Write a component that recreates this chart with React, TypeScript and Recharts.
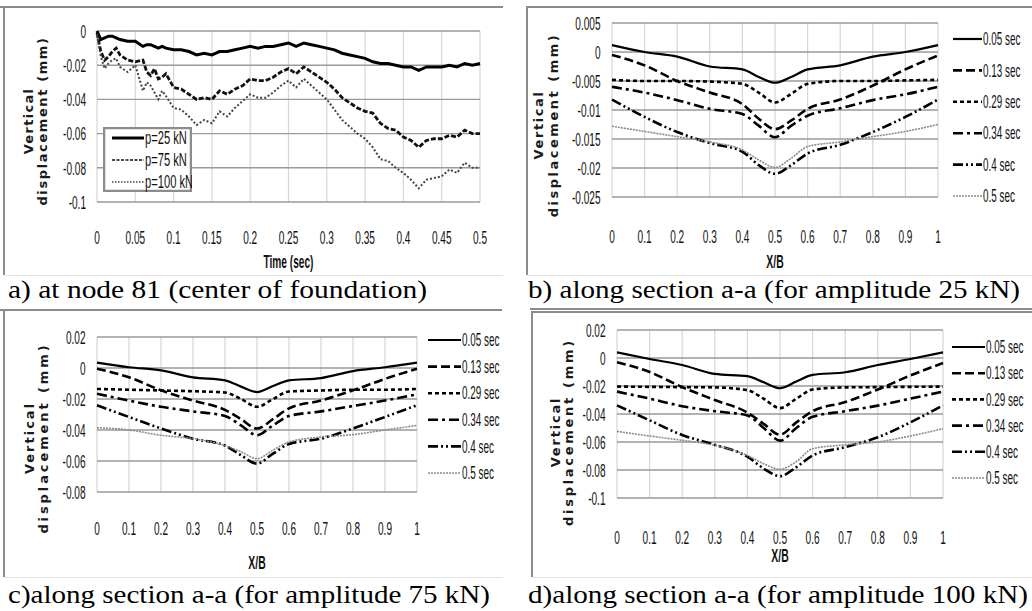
import React from "react";
import { LineChart, Line, XAxis, YAxis, CartesianGrid, Legend, Label } from "recharts";

const NARROW = "'Liberation Sans', Arial, sans-serif";
const SERIF = "'Liberation Serif', 'Times New Roman', Times, serif";
const FRAME = "#8c8c8c";

// (a) vertical displacement at node 81 vs time
const timeA = [0, 0.005, 0.01, 0.015, 0.02, 0.025, 0.03, 0.04, 0.05, 0.06, 0.065, 0.07, 0.075, 0.08, 0.085, 0.09,
  0.1, 0.11, 0.12, 0.13, 0.14, 0.15, 0.16, 0.17, 0.18, 0.19, 0.2, 0.21, 0.22, 0.23, 0.24, 0.25, 0.26, 0.27, 0.28, 0.29,
  0.3, 0.31, 0.32, 0.33, 0.34, 0.35, 0.36, 0.37, 0.38, 0.39, 0.4, 0.41, 0.42, 0.43, 0.44, 0.45, 0.46, 0.47, 0.48, 0.49, 0.5];
const p25 = [0, -0.005, -0.004, -0.003, -0.003, -0.004, -0.005, -0.006, -0.006, -0.009, -0.008, -0.008, -0.009, -0.01, -0.009, -0.01,
  -0.011, -0.011, -0.012, -0.014, -0.013, -0.014, -0.012, -0.012, -0.011, -0.01,
  -0.009, -0.01, -0.009, -0.009, -0.008, -0.007, -0.009, -0.007, -0.008, -0.009,
  -0.01, -0.011, -0.013, -0.014, -0.015, -0.016, -0.018, -0.019, -0.019, -0.02,
  -0.021, -0.021, -0.023, -0.021, -0.021, -0.021, -0.02, -0.021, -0.019, -0.02, -0.019];
const p75 = [-0.001, -0.012, -0.017, -0.015, -0.012, -0.01, -0.014, -0.017, -0.018, -0.017, -0.024, -0.026, -0.022, -0.028, -0.027, -0.025,
  -0.033, -0.034, -0.037, -0.04, -0.039, -0.04, -0.035, -0.037, -0.034, -0.032,
  -0.028, -0.029, -0.029, -0.027, -0.024, -0.022, -0.025, -0.021, -0.024, -0.027,
  -0.03, -0.034, -0.039, -0.042, -0.045, -0.047, -0.048, -0.054, -0.057, -0.058,
  -0.062, -0.064, -0.068, -0.064, -0.063, -0.063, -0.061, -0.062, -0.058, -0.06, -0.06];
const p100 = [-0.002, -0.015, -0.022, -0.019, -0.017, -0.016, -0.021, -0.024, -0.02, -0.035, -0.03, -0.032, -0.036, -0.04, -0.035, -0.038,
  -0.045, -0.046, -0.05, -0.055, -0.052, -0.054, -0.047, -0.05, -0.045, -0.041,
  -0.037, -0.039, -0.039, -0.036, -0.032, -0.029, -0.033, -0.028, -0.032, -0.036,
  -0.04, -0.046, -0.052, -0.056, -0.06, -0.063, -0.068, -0.075, -0.076, -0.08,
  -0.083, -0.087, -0.092, -0.087, -0.086, -0.085, -0.081, -0.083, -0.077, -0.08, -0.08];
const loadNames = ["p=25 kN", "p=75 kN", "p=100 kN"];
const timeTicks = [0, 0.05, 0.1, 0.15, 0.2, 0.25, 0.3, 0.35, 0.4, 0.45, 0.5];
const yTicksA = [0, -0.02, -0.04, -0.06, -0.08, -0.1];

// (b)-(d) profiles along section a-a
const xB = [0, 0.1, 0.2, 0.3, 0.4, 0.45, 0.5, 0.55, 0.6, 0.7, 0.8, 0.9, 1];
const xbTicks = [0, 0.1, 0.2, 0.3, 0.4, 0.5, 0.6, 0.7, 0.8, 0.9, 1];
const stepNames = ["0.05 sec", "0.13 sec", "0.29 sec", "0.34 sec", "0.4 sec", "0.5 sec"];

const amp25_005 = [0.0012, 0, -0.0008, -0.0025, -0.003, -0.0043, -0.0053, -0.0043, -0.003, -0.0023, -0.0008, 0, 0.0012];
const amp25_013 = [-0.0005, -0.0023, -0.005, -0.007, -0.009, -0.0115, -0.0133, -0.0118, -0.0098, -0.0082, -0.0058, -0.003, -0.0006];
const amp25_029 = [-0.0048, -0.005, -0.005, -0.0051, -0.0055, -0.007, -0.0087, -0.0072, -0.0055, -0.005, -0.005, -0.0049, -0.0048];
const amp25_034 = [-0.006, -0.007, -0.0083, -0.0098, -0.0107, -0.0127, -0.0147, -0.0127, -0.011, -0.0097, -0.0083, -0.0073, -0.006];
const amp25_04 = [-0.0082, -0.0112, -0.0138, -0.0157, -0.0172, -0.0195, -0.021, -0.0195, -0.0175, -0.016, -0.0138, -0.0112, -0.0082];
const amp25_05 = [-0.0128, -0.0137, -0.0146, -0.0155, -0.0169, -0.0186, -0.0199, -0.0183, -0.0163, -0.0155, -0.0146, -0.0137, -0.0125];
const yTicks25 = [0.005, 0, -0.005, -0.01, -0.015, -0.02, -0.025];

const amp75_005 = [0.0035, 0.0005, -0.0015, -0.006, -0.008, -0.012, -0.0155, -0.0116, -0.008, -0.0065, -0.002, 0.0005, 0.0035];
const amp75_013 = [-0.0005, -0.006, -0.0144, -0.021, -0.027, -0.033, -0.039, -0.033, -0.026, -0.021, -0.0144, -0.007, -0.0005];
const amp75_029 = [-0.0135, -0.014, -0.0145, -0.015, -0.0158, -0.02, -0.025, -0.02, -0.0152, -0.0145, -0.014, -0.014, -0.0135];
const amp75_034 = [-0.0166, -0.021, -0.025, -0.028, -0.031, -0.037, -0.0434, -0.037, -0.031, -0.028, -0.0245, -0.021, -0.017];
const amp75_04 = [-0.024, -0.0316, -0.039, -0.0456, -0.05, -0.0563, -0.0617, -0.0553, -0.049, -0.0456, -0.039, -0.0316, -0.024];
const amp75_05 = [-0.0385, -0.04, -0.0434, -0.0456, -0.05, -0.054, -0.0585, -0.053, -0.0477, -0.0445, -0.043, -0.04, -0.037];
const yTicks75 = [0.02, 0, -0.02, -0.04, -0.06, -0.08];

const amp100_005 = [0.004, -0.0007, -0.005, -0.0114, -0.013, -0.0173, -0.0216, -0.0168, -0.012, -0.0102, -0.005, -0.0007, 0.004];
const amp100_013 = [-0.003, -0.01, -0.0208, -0.03, -0.039, -0.047, -0.0547, -0.046, -0.038, -0.0315, -0.0225, -0.0125, -0.0036];
const amp100_029 = [-0.0204, -0.0206, -0.0208, -0.021, -0.023, -0.0291, -0.0358, -0.0291, -0.0225, -0.021, -0.0208, -0.0206, -0.0204];
const amp100_034 = [-0.024, -0.029, -0.0344, -0.038, -0.041, -0.05, -0.059, -0.05, -0.042, -0.038, -0.034, -0.029, -0.024];
const amp100_04 = [-0.0338, -0.0445, -0.055, -0.062, -0.0705, -0.079, -0.0844, -0.078, -0.0696, -0.0637, -0.0566, -0.046, -0.0338];
const amp100_05 = [-0.0524, -0.0557, -0.0588, -0.0624, -0.0696, -0.0755, -0.0795, -0.074, -0.0648, -0.062, -0.06, -0.0557, -0.0505];
const yTicks100 = [0.02, 0, -0.02, -0.04, -0.06, -0.08, -0.1];

const loadStyles = [
  { stroke: "#000", width: 3, dash: undefined, legendWidth: 3, legendDash: undefined },
  { stroke: "#111", width: 2.8, dash: "5 2", legendWidth: 1.4, legendDash: "3 1.5" },
  { stroke: "#444", width: 2, dash: "2 2", legendWidth: 1.6, legendDash: "1.5 1.5" },
];
const stepStyles = [
  { stroke: "#000", width: 2.2, dash: undefined },
  { stroke: "#000", width: 2.6, dash: "9 4" },
  { stroke: "#000", width: 2.6, dash: "4 3" },
  { stroke: "#000", width: 2.6, dash: "10 4 3 4" },
  { stroke: "#000", width: 2.6, dash: "10 3 2 3 2 3" },
  { stroke: "#8a8a8a", width: 1.6, dash: "2 1" },
];

const rowsA = timeA.map((t, i) => ({ t, s0: p25[i], s1: p75[i], s2: p100[i] }));
const toRows = (series: number[][]) =>
  xB.map((x, i) => {
    const row: Record<string, number> = { x };
    series.forEach((s, k) => (row["s" + k] = s[i]));
    return row;
  });
const rows25 = toRows([amp25_005, amp25_013, amp25_029, amp25_034, amp25_04, amp25_05]);
const rows75 = toRows([amp75_005, amp75_013, amp75_029, amp75_034, amp75_04, amp75_05]);
const rows100 = toRows([amp100_005, amp100_013, amp100_029, amp100_034, amp100_04, amp100_05]);

// narrow, tall lettering like the original spreadsheet export
function NText({ x, y, anchor = "middle", size = 14, bold = false, sx = 0.72, sy = 1.35, children }: any) {
  return (
    <g transform={`translate(${x},${y}) scale(${sx},${sy})`}>
      <text x={0} y={0} textAnchor={anchor} dominantBaseline="central" fontSize={size}
        fontWeight={bold ? 700 : 400} fontFamily={NARROW} fill="#111">
        {children}
      </text>
    </g>
  );
}

const xTick = (p: any) => <NText x={p.x} y={p.y} anchor="middle">{String(p.payload.value)}</NText>;
const yTick = (p: any) => <NText x={p.x} y={p.y} anchor="end">{String(p.payload.value)}</NText>;

function YTitle({ x1, x2, cy, ls1, ls2 }: any) {
  return (
    <g fontFamily="'DejaVu Sans', Verdana, sans-serif" fontWeight={700} fontSize={13} fill="#1a1a1a">
      <text transform={`translate(${x1},${cy}) rotate(-90)`} textAnchor="middle" dominantBaseline="central" letterSpacing={ls1}>Vertical</text>
      <text transform={`translate(${x2},${cy}) rotate(-90)`} textAnchor="middle" dominantBaseline="central" letterSpacing={ls2}>displacement (mm)</text>
    </g>
  );
}

function Grid() {
  return (
    <>
      <CartesianGrid horizontal={false} stroke="#d6d6d6" strokeWidth={1.2} />
      <CartesianGrid vertical={false} stroke="#9a9a9a" strokeWidth={1.4} />
    </>
  );
}

function TimePanel() {
  const W = 503, H = 275, top = 31, bottom = 202, yw = 97, right = 480;
  return (
    <div style={{ position: "absolute", left: 0, top: 0 }}>
      <LineChart width={W} height={H} data={rowsA} margin={{ top, right: W - right, bottom: 0, left: 0 }}>
        <Grid />
        <XAxis type="number" dataKey="t" domain={[0, 0.5]} ticks={timeTicks} axisLine={false} tickLine={false}
          tickSize={0} tickMargin={35} height={H - bottom} tick={xTick} interval={0}>
          <Label content={() => <NText x={(yw + right) / 2} y={262} bold size={13} sx={0.78}>Time (sec)</NText>} />
        </XAxis>
        <YAxis type="number" domain={[-0.1, 0]} ticks={yTicksA} axisLine={false} tickLine={false}
          tickSize={0} tickMargin={11} width={yw} tick={yTick} interval={0}>
          <Label content={() => <YTitle x1={28} x2={42} cy={121} ls1={1.3} ls2={1.6} />} />
        </YAxis>
        {loadNames.map((n, i) => (
          <Line key={n} name={n} dataKey={"s" + i} type="linear" dot={false} isAnimationActive={false}
            stroke={loadStyles[i].stroke} strokeWidth={loadStyles[i].width} strokeDasharray={loadStyles[i].dash} />
        ))}
        <Legend layout="horizontal" align="center" verticalAlign="middle"
          wrapperStyle={{ left: 103, top: 127, width: 89, height: 65 }}
          content={() => (
            <svg width={89} height={65} style={{ display: "block" }}>
              <rect x={1} y={1} width={87} height={63} fill="#fff" stroke={FRAME} strokeWidth={2.5} />
              {loadNames.map((n, i) => (
                <g key={n}>
                  <line x1={9} x2={41} y1={11 + i * 22} y2={11 + i * 22} stroke={loadStyles[i].stroke}
                    strokeWidth={loadStyles[i].legendWidth} strokeDasharray={loadStyles[i].legendDash} />
                  <NText x={42} y={11 + i * 22} anchor="start" size={13} sx={0.86}>{n}</NText>
                </g>
              ))}
            </svg>
          )}
        />
      </LineChart>
    </div>
  );
}

function SectionPanel({ left, top, width, height, plotTop, plotBottom, yw, plotRight, domain, yTicks, rows,
  tickGap, titleY, legendX, legendY, legendStep, sample, yTitle }: any) {
  return (
    <div style={{ position: "absolute", left, top }}>
      <LineChart width={width} height={height} data={rows} margin={{ top: plotTop, right: width - plotRight, bottom: 0, left: 0 }}>
        <Grid />
        <XAxis type="number" dataKey="x" domain={[0, 1]} ticks={xbTicks} axisLine={false} tickLine={false}
          tickSize={0} tickMargin={tickGap} height={height - plotBottom} tick={xTick} interval={0}>
          <Label content={() => <NText x={(yw + plotRight) / 2} y={titleY} bold size={13} sx={0.8}>X/B</NText>} />
        </XAxis>
        <YAxis type="number" domain={domain} ticks={yTicks} axisLine={false} tickLine={false}
          tickSize={0} tickMargin={11.5} width={yw} tick={yTick} interval={0}>
          <Label content={() => <YTitle {...yTitle} />} />
        </YAxis>
        {stepNames.map((n, i) => (
          <Line key={n} name={n} dataKey={"s" + i} type="monotone" dot={false} isAnimationActive={false}
            stroke={stepStyles[i].stroke} strokeWidth={stepStyles[i].width} strokeDasharray={stepStyles[i].dash} />
        ))}
        <Legend layout="horizontal" align="center" verticalAlign="middle"
          wrapperStyle={{ left: legendX, top: legendY - 10, width: 84, height: legendStep * 6 + 10 }}
          content={() => (
            <svg width={84} height={legendStep * 6 + 10} style={{ display: "block" }}>
              {stepNames.map((n, i) => (
                <g key={n}>
                  <line x1={0} x2={sample} y1={10 + i * legendStep} y2={10 + i * legendStep} stroke={stepStyles[i].stroke}
                    strokeWidth={stepStyles[i].width} strokeDasharray={stepStyles[i].dash} />
                  <NText x={sample + 1} y={10 + i * legendStep} anchor="start" size={13} sx={0.76}>{n}</NText>
                </g>
              ))}
            </svg>
          )}
        />
      </LineChart>
    </div>
  );
}

const bar = (left: number, top: number, width: number, height: number, bg = FRAME) => (
  <div style={{ position: "absolute", left, top, width, height, background: bg }} />
);

export default function App() {
  return (
    <div style={{ position: "absolute", left: 0, top: 0, width: 1032, height: 611, background: "#fff", overflow: "hidden" }}>
      {bar(0, 6, 503, 2)}
      {bar(3, 6, 2, 269)}
      {bar(4, 275, 499, 1, "#e4e4e4")}
      {bar(0, 309, 502, 2)}
      {bar(527, 6, 505, 2)}
      {bar(526, 6, 2, 269)}
      {bar(528, 275, 504, 1, "#e4e4e4")}
      {bar(530, 308, 502, 2)}
      {bar(3, 310, 2, 267)}
      {bar(4, 577, 499, 1, "#e4e4e4")}
      {bar(531, 311, 501, 2)}
      {bar(531, 311, 2, 266)}
      {bar(532, 577, 500, 1, "#e4e4e4")}

      <TimePanel />
      <SectionPanel left={527} top={0} width={505} height={275} plotTop={23} plotBottom={197} yw={85} plotRight={411}
        domain={[-0.025, 0.005]} yTicks={yTicks25} rows={rows25} tickGap={39} titleY={262}
        legendX={426} legendY={39} legendStep={31.4} sample={29}
        yTitle={{ x1: 11, x2: 26, cy: 125, ls1: 1.6, ls2: 2.5 }} />
      <SectionPanel left={0} top={310} width={503} height={267} plotTop={27} plotBottom={182} yw={97} plotRight={417}
        domain={[-0.08, 0.02]} yTicks={yTicks75} rows={rows75} tickGap={36} titleY={253}
        legendX={428} legendY={30} legendStep={26.6} sample={33}
        yTitle={{ x1: 29, x2: 43, cy: 128, ls1: 2, ls2: 2.9 }} />
      <SectionPanel left={532} top={312} width={500} height={265} plotTop={18} plotBottom={186} yw={85} plotRight={411}
        domain={[-0.1, 0.02]} yTicks={yTicks100} rows={rows100} tickGap={39} titleY={244}
        legendX={420} legendY={35} legendStep={26.2} sample={33}
        yTitle={{ x1: 23, x2: 36, cy: 120, ls1: 1.8, ls2: 2.7 }} />

      <svg width={1032} height={611} style={{ position: "absolute", left: 0, top: 0, pointerEvents: "none" }}>
        <g style={{ fontFamily: SERIF, fontSize: 25 }} fill="#000">
          <text x={8} y={298} textLength={419} lengthAdjust="spacingAndGlyphs">a) at node 81 (center of foundation)</text>
          <text x={528} y={298} textLength={492} lengthAdjust="spacingAndGlyphs">b) along section a-a (for amplitude 25 kN)</text>
          <text x={8} y={603} textLength={482} lengthAdjust="spacingAndGlyphs">c)along section a-a (for amplitude 75 kN)</text>
          <text x={528} y={603} textLength={500} lengthAdjust="spacingAndGlyphs">d)along section a-a (for amplitude 100 kN)</text>
        </g>
      </svg>
    </div>
  );
}
